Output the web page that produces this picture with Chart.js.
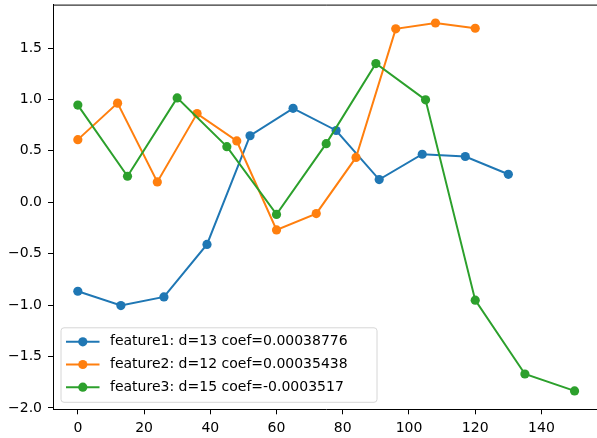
<!DOCTYPE html>
<html>
<head>
<meta charset="UTF-8">
<title>Features</title>
<script src="https://cdn.jsdelivr.net/npm/chart.js@4.4.0/dist/chart.umd.min.js"></script>
<style>
  html, body { margin: 0; padding: 0; background: #fff; overflow: hidden; }
  #chart { display: block; }
</style>
</head>
<body>
<canvas id="chart" width="604" height="438"></canvas>
<script>
const seriesNames = [
    'feature1: d=13 coef=0.00038776',
    'feature2: d=12 coef=0.00035438',
    'feature3: d=15 coef=-0.0003517'
];
const f1X = [0, 13, 26, 39, 52, 65, 78, 91, 104, 117, 130];
const f1Y = [-0.865, -1.004, -0.92, -0.41, 0.647, 0.913, 0.698, 0.221, 0.467, 0.445, 0.272];
const f2X = [0, 12, 24, 36, 48, 60, 72, 84, 96, 108, 120];
const f2Y = [0.609, 0.964, 0.198, 0.862, 0.596, -0.269, -0.11, 0.436, 1.686, 1.743, 1.692];
const f3X = [0, 15, 30, 45, 60, 75, 90, 105, 120, 135, 150];
const f3Y = [0.945, 0.253, 1.015, 0.541, -0.118, 0.570, 1.349, 0.996, -0.952, -1.670, -1.834];
const colors = ['#1f77b4', '#ff7f0e', '#2ca02c'];

const xTicks = [0, 20, 40, 60, 80, 100, 120, 140];
const xTickLabels = ['0', '20', '40', '60', '80', '100', '120', '140'];
const yTicks = [-2.0, -1.5, -1.0, -0.5, 0.0, 0.5, 1.0, 1.5];
const yTickLabels = ['\u22122.0', '\u22121.5', '\u22121.0', '\u22120.5', '0.0', '0.5', '1.0', '1.5'];

const FONT = 'DejaVu Sans';
const MARKER_R = 4.6;

function toPoints(xs, ys) {
    return xs.map((x, i) => ({ x: x, y: ys[i] }));
}

const allX = [f1X, f2X, f3X];
const allY = [f1Y, f2Y, f3Y];

const datasets = allX.map((xs, i) => ({
    label: seriesNames[i],
    data: toPoints(xs, allY[i]),
    borderColor: colors[i],
    backgroundColor: colors[i],
    pointBackgroundColor: colors[i],
    pointBorderWidth: 0,
    pointRadius: MARKER_R,
    borderWidth: 2,
    tension: 0,
    order: 3 - i
}));

// top spine
const framePlugin = {
    id: 'frame',
    afterDatasetsDraw(chart) {
        const a = chart.chartArea;
        const ctx = chart.ctx;
        ctx.save();
        ctx.strokeStyle = '#000';
        ctx.lineWidth = 1;
        ctx.beginPath();
        ctx.moveTo(a.left, a.top + 0.5);
        ctx.lineTo(a.right, a.top + 0.5);
        ctx.moveTo(a.right - 0.5, a.top);
        ctx.lineTo(a.right - 0.5, a.bottom);
        ctx.stroke();
        ctx.restore();
    }
};

// matplotlib style legend, lower left inside the axes
const legendPlugin = {
    id: 'mplLegend',
    afterDraw(chart) {
        const ctx = chart.ctx;
        const a = chart.chartArea;
        const bx = a.left + 7.5, by = a.bottom - 82, bw = 316, bh = 74.5;
        ctx.save();
        ctx.beginPath();
        ctx.roundRect(bx + 0.5, by + 0.5, bw, bh, 3);
        ctx.fillStyle = 'rgba(255,255,255,0.8)';
        ctx.fill();
        ctx.strokeStyle = '#d6d6d6';
        ctx.lineWidth = 1;
        ctx.stroke();
        ctx.font = '14px "' + FONT + '"';
        ctx.textBaseline = 'middle';
        seriesNames.forEach((name, i) => {
            const cy = by + 14.5 + i * 22.7;
            ctx.strokeStyle = colors[i];
            ctx.lineWidth = 2;
            ctx.beginPath();
            ctx.moveTo(bx + 5.5, cy);
            ctx.lineTo(bx + 39, cy);
            ctx.stroke();
            ctx.fillStyle = colors[i];
            ctx.beginPath();
            ctx.arc(bx + 22.3, cy, MARKER_R, 0, Math.PI * 2);
            ctx.fill();
            ctx.fillStyle = '#000';
            ctx.fillText(name, bx + 49.5, cy);
        });
        ctx.restore();
    }
};

new Chart(document.getElementById('chart'), {
    type: 'line',
    data: { datasets: datasets },
    options: {
        responsive: false,
        animation: false,
        layout: { padding: { top: 2, left: 0, right: 0, bottom: 0 } },
        plugins: {
            legend: { display: false },
            tooltip: { enabled: false }
        },
        scales: {
            x: {
                type: 'linear',
                min: -7.5,
                max: 157.5,
                afterBuildTicks(scale) {
                    scale.ticks = xTicks.map(v => ({ value: v }));
                },
                afterFit(scale) {
                    scale.height = 28.7;
                    scale.paddingLeft = 0;
                    scale.paddingRight = 0;
                },
                grid: { display: true, drawOnChartArea: false, drawTicks: true, tickLength: 5, color: '#000' },
                border: { display: true, color: '#000', width: 1 },
                ticks: {
                    padding: 6,
                    color: '#000',
                    font: { family: FONT, size: 14 },
                    maxRotation: 0,
                    autoSkip: false,
                    callback: (v, i) => xTickLabels[i]
                }
            },
            y: {
                type: 'linear',
                min: -2.013,
                max: 1.922,
                afterBuildTicks(scale) {
                    scale.ticks = yTicks.map(v => ({ value: v }));
                },
                afterFit(scale) {
                    scale.width = 53;
                    scale.paddingTop = 0;
                    scale.paddingBottom = 0;
                },
                grid: { display: true, drawOnChartArea: false, drawTicks: true, tickLength: 5, color: '#000' },
                border: { display: true, color: '#000', width: 1 },
                ticks: {
                    padding: 6,
                    color: '#000',
                    font: { family: FONT, size: 14 },
                    autoSkip: false,
                    callback: (v, i) => yTickLabels[i]
                }
            }
        }
    },
    plugins: [framePlugin, legendPlugin]
});
</script>
</body>
</html>
